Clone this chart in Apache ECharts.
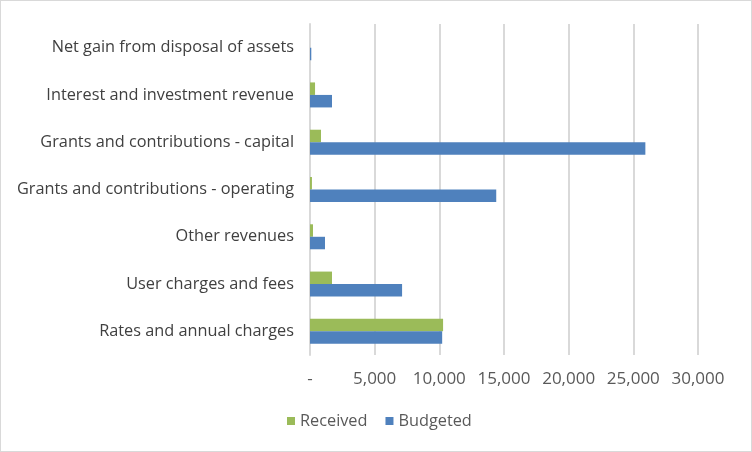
<!DOCTYPE html>
<html>
<head>
<meta charset="utf-8">
<script src="https://cdn.jsdelivr.net/npm/echarts@6/dist/echarts.min.js"></script>
<style>
html,body{margin:0;padding:0;background:#fff;}
#c{width:750px;height:450px;border:1px solid #d9d9d9;}
</style>
</head>
<body>
<div id="c"></div>
<script>
var categories = ["Rates and annual charges","User charges and fees","Other revenues","Grants and contributions - operating","Grants and contributions - capital","Interest and investment revenue","Net gain from disposal of assets"];
var received = [10290, 1700, 230, 150, 850, 390, 0];
var budgeted = [10220, 7120, 1160, 14400, 25930, 1700, 100];
var xTicks = [0, 5000, 10000, 15000, 20000, 25000, 30000];

var chart = echarts.init(document.getElementById('c'));
chart.setOption({
  animation: false,
  textStyle: {fontFamily: 'Open Sans'},
  grid: {left: 309, right: 53, top: 23, bottom: 96, containLabel: false},
  legend: {
    data: ['Received', 'Budgeted'],
    bottom: 17,
    left: 281,
    itemWidth: 8, itemHeight: 8, itemGap: 18,
    icon: 'rect',
    textStyle: {color: '#595959', fontSize: 16.3, fontFamily: 'Open Sans'}
  },
  xAxis: {
    type: 'value', min: 0, max: 30000, interval: 5000,
    axisLine: {show: false}, axisTick: {show: false},
    splitLine: {lineStyle: {color: '#d9d9d9', width: 2}},
    axisLabel: {
      color: '#595959', fontSize: 17, margin: 16,
      formatter: function (v) { return v === 0 ? '-' : v.toLocaleString('en-US'); }
    }
  },
  yAxis: {
    type: 'category', data: categories,
    axisLine: {lineStyle: {color: '#d9d9d9', width: 2}},
    axisTick: {show: false},
    axisLabel: {color: '#404040', fontSize: 16.3, margin: 16}
  },
  series: [
    {name: 'Received', type: 'bar', data: received, barWidth: 12.5, barGap: '0%', itemStyle: {color: '#9bbb59'}},
    {name: 'Budgeted', type: 'bar', data: budgeted, barWidth: 12.5, barGap: '0%', itemStyle: {color: '#4f81bd'}}
  ]
});
</script>
</body>
</html>
